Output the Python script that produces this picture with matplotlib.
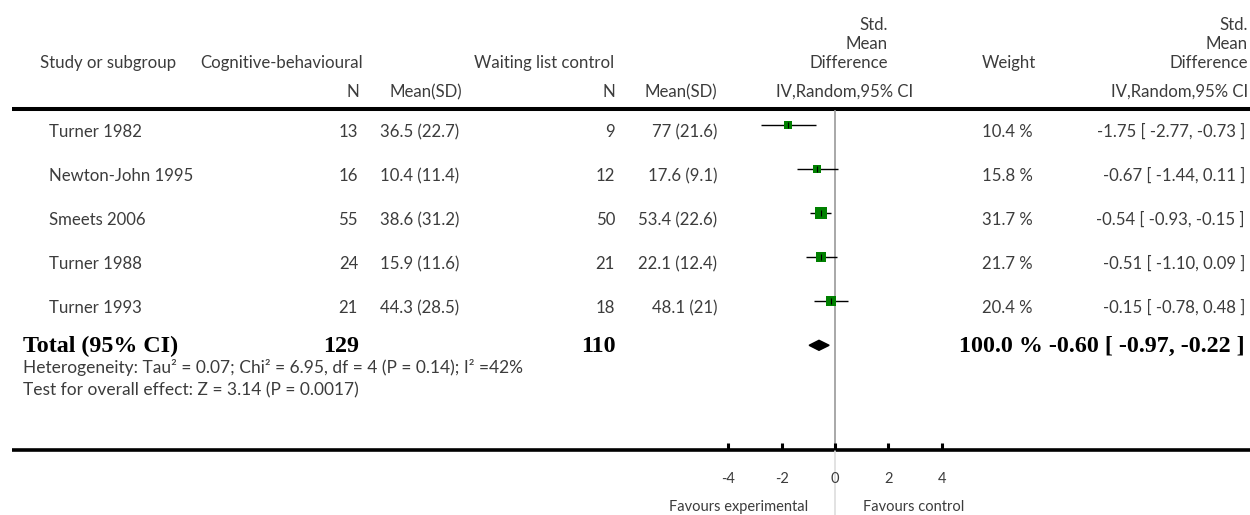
import matplotlib
matplotlib.use("Agg")
import matplotlib.pyplot as plt
import numpy as np

# ---------------- data ----------------
studies = ["Turner 1982", "Newton-John 1995", "Smeets 2006", "Turner 1988", "Turner 1993"]
exp_n = [13, 16, 55, 24, 21]
exp_mean = [36.5, 10.4, 38.6, 15.9, 44.3]
exp_sd = [22.7, 11.4, 31.2, 11.6, 28.5]
ctl_n = [9, 12, 50, 21, 18]
ctl_mean = [77, 17.6, 53.4, 22.1, 48.1]
ctl_sd = [21.6, 9.1, 22.6, 12.4, 21]
smd = [-1.75, -0.67, -0.54, -0.51, -0.15]
ci_lo = [-2.77, -1.44, -0.93, -1.10, -0.78]
ci_hi = [-0.73, 0.11, -0.15, 0.09, 0.48]
weights = [10.4, 15.8, 31.7, 21.7, 20.4]

total_label = "Total (95% CI)"
total_exp_n = 129
total_ctl_n = 110
total_weight = 100.0
total_smd = -0.60
total_lo = -0.97
total_hi = -0.22

heterogeneity = "Heterogeneity: Tau\u00b2 = 0.07; Chi\u00b2 = 6.95, df = 4 (P = 0.14); I\u00b2 =42%"
overall = "Test for overall effect: Z = 3.14 (P = 0.0017)"
xticks = [-4, -2, 0, 2, 4]
left_label = "Favours experimental"
right_label = "Favours control"

# ---------------- style ----------------
plt.rcParams["axes.unicode_minus"] = False
SANS = ["Lato", "DejaVu Sans"]
TXT = "#3c3c3c"
body = dict(family=SANS, fontweight="normal", fontsize=12.1, color=TXT)
small = dict(family=SANS, fontweight="normal", fontsize=12.5, color=TXT)
foot = dict(family=SANS, fontweight="normal", fontsize=10.5, color=TXT)
bold = dict(family=["Liberation Serif", "DejaVu Serif"], fontweight="bold", fontsize=17.3, color="black")
GREEN = "#008000"

W, H = 1250, 515
fig = plt.figure(figsize=(W / 100, H / 100), dpi=100)
bg = fig.add_axes([0, 0, 1, 1])
bg.set_xlim(0, W)
bg.set_ylim(H, 0)
bg.axis("off")

# header
hb1, hb2 = 68, 97
bg.text(40, hb1, "Study or subgroup", ha="left", va="baseline", **body)
bg.text(200, hb1, "Cognitive-behavioural", ha="left", va="baseline", **body)
bg.text(614, hb1, "Waiting list control", ha="right", va="baseline", **body)
for txt, yy in zip(["Std.", "Mean", "Difference"], [30, 49, hb1]):
    bg.text(888, yy, txt, ha="right", va="baseline", **body)
    bg.text(1248, yy, txt, ha="right", va="baseline", **body)
bg.text(1036, hb1, "Weight", ha="right", va="baseline", **body)
bg.text(359, hb2, "N", ha="right", va="baseline", **body)
bg.text(462, hb2, "Mean(SD)", ha="right", va="baseline", **body)
bg.text(615, hb2, "N", ha="right", va="baseline", **body)
bg.text(717, hb2, "Mean(SD)", ha="right", va="baseline", **body)
bg.text(845, hb2, "IV,Random,95% CI", ha="center", va="baseline", **body)
bg.text(1248, hb2, "IV,Random,95% CI", ha="right", va="baseline", **body)

# thick rules
bg.plot([12, W], [109, 109], color="black", lw=2.9, solid_capstyle="butt")
bg.plot([12, W], [449.5, 449.5], color="black", lw=2.6, solid_capstyle="butt")

# study rows
row0, dy = 137, 44
for i, name in enumerate(studies):
    yb = row0 + dy * i
    bg.text(49, yb, name, ha="left", va="baseline", **body)
    bg.text(358, yb, f"{exp_n[i]}", ha="right", va="baseline", **body)
    bg.text(459, yb, f"{exp_mean[i]:g} ({exp_sd[i]:g})", ha="right", va="baseline", **body)
    bg.text(615, yb, f"{ctl_n[i]}", ha="right", va="baseline", **body)
    bg.text(717, yb, f"{ctl_mean[i]:g} ({ctl_sd[i]:g})", ha="right", va="baseline", **body)
    bg.text(1033, yb, f"{weights[i]:.1f} %", ha="right", va="baseline", **body)
    bg.text(1245, yb, f"{smd[i]:.2f} [ {ci_lo[i]:.2f}, {ci_hi[i]:.2f} ]", ha="right", va="baseline", **body)

# total row
tb = 352
bg.text(23, tb, total_label, ha="left", va="baseline", **bold)
bg.text(359, tb, f"{total_exp_n}", ha="right", va="baseline", **bold)
bg.text(616, tb, f"{total_ctl_n}", ha="right", va="baseline", **bold)
bg.text(1245, tb, f"{total_weight:.1f} % {total_smd:.2f} [ {total_lo:.2f}, {total_hi:.2f} ]",
        ha="right", va="baseline", **bold)
bg.text(23, 373, heterogeneity, ha="left", va="baseline", **small)
bg.text(23, 395, overall, ha="left", va="baseline", **small)

# footer labels
bg.text(808, 511, left_label, ha="right", va="baseline", **foot)
bg.text(863, 511, right_label, ha="left", va="baseline", **foot)

# ---------------- forest axes ----------------
x0, x1 = 728.3, 941.7
ytop, ybot = 110, 449.5
rc = 125.3  # pixel centre of first row
fa = fig.add_axes([x0 / W, 1 - ybot / H, (x1 - x0) / W, (ybot - ytop) / H])
fa.patch.set_alpha(0)
fa.set_xlim(xticks[0], xticks[-1])
fa.set_ylim((ybot - rc) / dy, (ytop - rc) / dy)
for s in fa.spines.values():
    s.set_visible(False)
fa.set_yticks([])
fa.set_xticks(xticks)
fa.set_xticklabels([str(t) for t in xticks], fontfamily=SANS, fontweight="normal",
                   fontsize=10.5, color=TXT)
fa.tick_params(axis="x", direction="in", length=5, width=2.2, pad=16, color="black")

# zero line
fa.axvline(0, color="#9a9a9a", lw=1.2, zorder=1)
fa.plot([0, 0], [(ybot - rc) / dy, (H - rc) / dy], color="#dddddd", lw=1.2, clip_on=False, zorder=1)

for i in range(len(studies)):
    fa.plot([ci_lo[i], ci_hi[i]], [i, i], color="black", lw=1.0, zorder=2, solid_capstyle="butt")
    side = 2.25 * np.sqrt(weights[i]) * 0.72
    fa.plot([smd[i]], [i], marker="s", ms=side, color=GREEN, mec=GREEN, mew=0, zorder=3)
    fa.plot([smd[i]], [i], marker="|", ms=4, color="black", mew=0.8, zorder=4)

k = len(studies)
h = 5 / dy
fa.fill([total_lo, total_smd, total_hi, total_smd], [k, k - h, k, k + h], color="black", zorder=3)

fig.savefig("out.png", dpi=100)
